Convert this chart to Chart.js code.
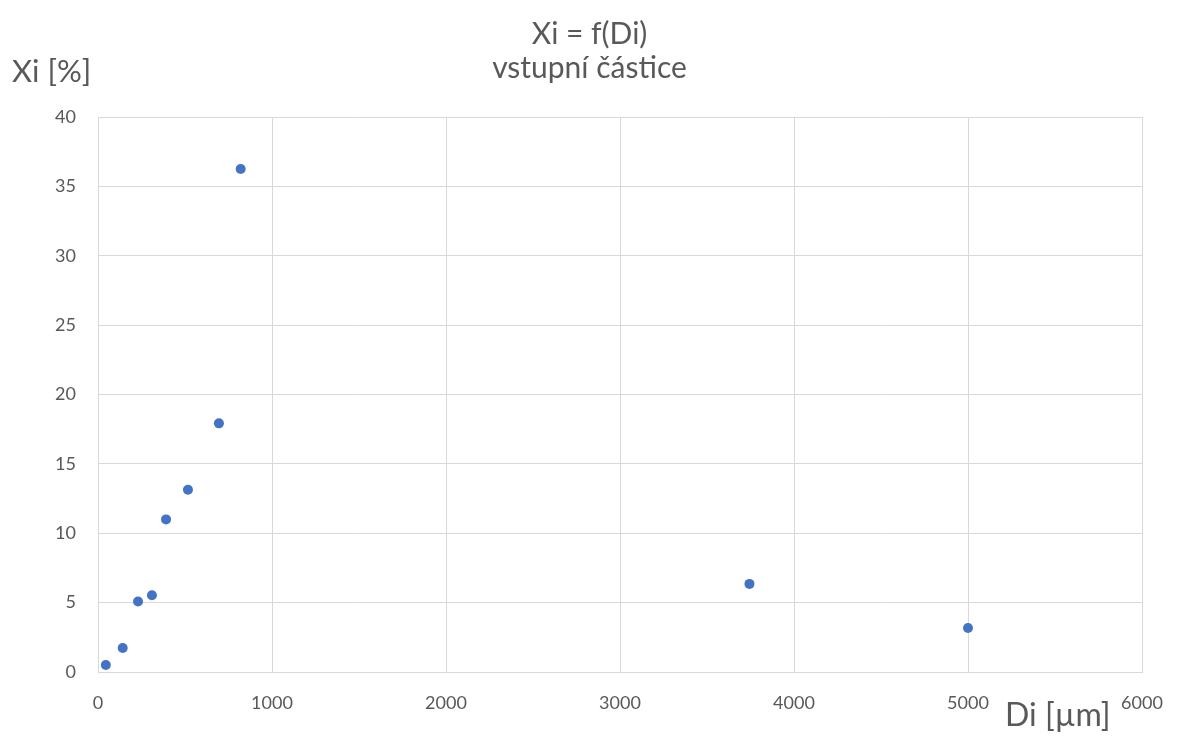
<!DOCTYPE html>
<html>
<head>
<meta charset="utf-8">
<script src="https://cdn.jsdelivr.net/npm/chart.js@4"></script>
<style>
  html, body { margin: 0; padding: 0; background: #fff; }
  #wrap { width: 1179px; height: 737px; position: relative; }
</style>
</head>
<body>
<div id="wrap"><canvas id="c" width="1179" height="737"></canvas></div>
<script>
// Particle size Di [µm] and mass fraction Xi [%]
const diValues = [45, 142, 230, 310, 391, 517, 695, 820, 3744, 5000];
const xiValues = [0.5, 1.73, 5.08, 5.53, 11.0, 13.13, 17.92, 36.25, 6.35, 3.17];
const xTicks = [0, 1000, 2000, 3000, 4000, 5000, 6000];
const yTicks = [0, 5, 10, 15, 20, 25, 30, 35, 40];

const titleText = 'Xi = f(Di)';
const subtitleText = 'vstupní částice';
const yAxisTitle = 'Xi [%]';
const xAxisTitle = 'Di [µm]';

const FONT = 'Lato, "Open Sans", sans-serif';
const TEXT = '#595959';
const GRID = '#d9d9d9';

const points = diValues.map((d, i) => ({ x: d, y: xiValues[i] }));

const textPlugin = {
  id: 'chartTexts',
  afterDraw(chart) {
    const ctx = chart.ctx;
    ctx.save();
    ctx.fillStyle = TEXT;
    ctx.textBaseline = 'middle';
    ctx.textAlign = 'center';
    ctx.font = '30px ' + FONT;
    ctx.fillText(titleText, chart.width / 2, 34);
    ctx.fillText(subtitleText, chart.width / 2, 68);
    ctx.textAlign = 'left';
    ctx.font = '31px ' + FONT;
    ctx.fillText(yAxisTitle, 12, 72);
    ctx.font = '32px ' + FONT;
    ctx.fillText(xAxisTitle, 1005, 716);
    ctx.restore();
  }
};

new Chart(document.getElementById('c'), {
  type: 'scatter',
  data: {
    datasets: [{
      data: points,
      backgroundColor: '#4472C4',
      borderColor: '#4472C4',
      pointRadius: 5,
      pointHoverRadius: 5,
      pointBorderWidth: 0
    }]
  },
  options: {
    responsive: false,
    animation: false,
    events: [],
    layout: { padding: { top: 117, left: 0, right: 37, bottom: 0 } },
    plugins: {
      legend: { display: false },
      title: { display: false },
      tooltip: { enabled: false }
    },
    scales: {
      x: {
        type: 'linear',
        min: 0,
        max: 6000,
        afterBuildTicks(scale) { scale.ticks = xTicks.map(v => ({ value: v })); },
        afterFit(scale) {
          scale.height = 65;
          // the last tick label may overhang the plot edge; keep the plot width fixed
          scale.paddingLeft = 0;
          scale.paddingRight = 0;
        },
        grid: { color: GRID, lineWidth: 1, drawTicks: false },
        border: { color: GRID, width: 1 },
        ticks: {
          color: TEXT,
          font: { family: FONT, size: 18 },
          padding: 20,
          maxRotation: 0,
          callback: v => String(v)
        }
      },
      y: {
        type: 'linear',
        min: 0,
        max: 40,
        afterBuildTicks(scale) { scale.ticks = yTicks.map(v => ({ value: v })); },
        afterFit(scale) {
          scale.width = 98;
          scale.paddingTop = 0;
          scale.paddingBottom = 0;
        },
        grid: { color: GRID, lineWidth: 1, drawTicks: false },
        border: { color: GRID, width: 1 },
        ticks: {
          color: TEXT,
          font: { family: FONT, size: 18 },
          padding: 22,
          callback: v => String(v)
        }
      }
    }
  },
  plugins: [textPlugin]
});
</script>
</body>
</html>
